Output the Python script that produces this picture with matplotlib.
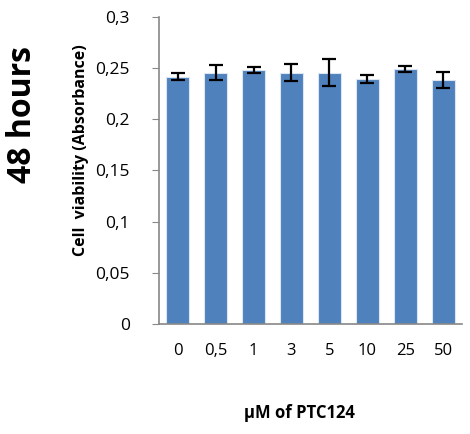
import matplotlib
matplotlib.use('Agg')
import matplotlib.pyplot as plt
import numpy as np

plt.rcParams['font.family'] = ['Open Sans', 'DejaVu Sans']

# data
doses = ['0', '0,5', '1', '3', '5', '10', '25', '50']
absorbance = [0.2417, 0.2457, 0.2480, 0.2457, 0.2457, 0.2395, 0.2490, 0.2385]
errors = [0.0031, 0.0073, 0.0031, 0.0081, 0.0130, 0.0040, 0.0030, 0.0080]
yticks = [0, 0.05, 0.1, 0.15, 0.2, 0.25, 0.3]
ytick_labels = ['0', '0,05', '0,1', '0,15', '0,2', '0,25', '0,3']

fig = plt.figure(figsize=(4.7, 4.34), dpi=100)
ax = fig.add_axes([0.338, 0.2535, 0.645, 0.7075])

x = np.arange(len(doses))
ax.bar(x, absorbance, width=0.61, color='#4F81BD', edgecolor='#dce6f2', linewidth=0.8)
ax.errorbar(x, absorbance, yerr=errors, fmt='none', ecolor='black',
            elinewidth=1.6, capsize=5, capthick=1.6)

ax.set_xlim(-0.5, len(doses) - 0.5)
ax.set_ylim(0, 0.3)
ax.set_yticks(yticks)
ax.set_yticklabels(ytick_labels, fontsize=12.5)
ax.set_xticks(x)
ax.set_xticklabels(doses, fontsize=12)

for side in ['top', 'right']:
    ax.spines[side].set_visible(False)
for side in ['left', 'bottom']:
    ax.spines[side].set_color('#888888')
    ax.spines[side].set_linewidth(1.2)
ax.tick_params(axis='y', direction='out', length=5, color='#888888', pad=16)
ax.tick_params(axis='x', length=0, pad=14)

fig.text(0.172, 0.654, 'Cell  viability (Absorbance)', rotation=90, fontsize=11.5,
         fontweight='bold', ha='center', va='center')
fig.text(0.638, 0.048, 'µM of PTC124', fontsize=12, fontweight='bold',
         ha='center', va='center')
fig.text(0.047, 0.737, '48 hours', rotation=90, fontsize=23, fontweight='bold',
         ha='center', va='center')

fig.savefig('out.png', dpi=100)
